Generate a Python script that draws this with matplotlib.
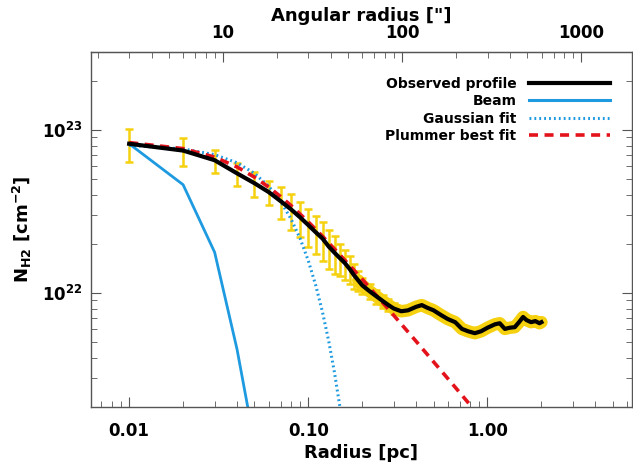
import numpy as np
import matplotlib
matplotlib.use("Agg")
import matplotlib.pyplot as plt
from matplotlib.lines import Line2D
from matplotlib.ticker import LogLocator, NullFormatter, FixedLocator, FixedFormatter

# observed radial profile (pc, 1e22 cm^-2)
obs_r = [0.01, 0.02, 0.03, 0.04, 0.05, 0.06, 0.07, 0.08, 0.09, 0.10,
         0.11, 0.12, 0.13, 0.14, 0.15, 0.16, 0.17, 0.18, 0.19, 0.20,
         0.22, 0.24, 0.26, 0.28, 0.30, 0.33, 0.36, 0.40, 0.43, 0.46,
         0.50, 0.55, 0.60, 0.66, 0.72, 0.78, 0.85, 0.92, 1.00, 1.10,
         1.17, 1.25, 1.33, 1.42, 1.50, 1.58, 1.65, 1.75, 1.85, 1.95, 2.00]
obs_n = [8.2, 7.45, 6.5, 5.4, 4.7, 4.15, 3.65, 3.25, 2.9, 2.6,
         2.35, 2.15, 1.92, 1.76, 1.63, 1.52, 1.40, 1.28, 1.19, 1.11,
         1.02, 0.95, 0.89, 0.84, 0.80, 0.77, 0.78, 0.82, 0.84, 0.81,
         0.78, 0.73, 0.69, 0.66, 0.60, 0.58, 0.565, 0.58, 0.61, 0.64,
         0.65, 0.60, 0.61, 0.615, 0.66, 0.71, 0.68, 0.66, 0.67, 0.65, 0.66]
# error bars for the inner part (same radii as the first entries of obs_r)
err_n = [1.89, 1.49, 1.04, 0.86, 0.82, 0.71, 0.80, 0.81, 0.70, 0.68,
         0.61, 0.58, 0.52, 0.46, 0.37, 0.32, 0.27, 0.22, 0.17, 0.13,
         0.11, 0.095, 0.08, 0.071, 0.064]

# beam profile
beam_r = [0.01, 0.02, 0.03, 0.04, 0.05]
beam_n = [8.2, 4.6, 1.77, 0.45, 0.12]

# gaussian fit
gauss_r = [0.01, 0.02, 0.03, 0.04, 0.05, 0.06, 0.07, 0.08, 0.09, 0.10,
           0.11, 0.12, 0.13, 0.14, 0.15, 0.16]
gauss_n = [8.02, 7.63, 7.03, 6.27, 5.40, 4.51, 3.64, 2.84, 2.15, 1.57,
           1.11, 0.76, 0.504, 0.323, 0.200, 0.120]

# plummer best fit
plum_r = [0.01, 0.02, 0.03, 0.04, 0.05, 0.06, 0.07, 0.08, 0.10, 0.12,
          0.15, 0.20, 0.25, 0.30, 0.40, 0.50, 0.60, 0.70, 0.80, 0.90]
plum_n = [8.34, 7.66, 6.79, 5.91, 5.12, 4.45, 3.89, 3.43, 2.72, 2.22,
          1.71, 1.21, 0.914, 0.726, 0.503, 0.377, 0.298, 0.244, 0.205, 0.176]

pc_per_arcsec = 0.00334

yellow = '#F5D10F'
blue = '#1E9AE0'
red = '#E3121B'

plt.rcParams['font.family'] = 'DejaVu Sans'
plt.rcParams['font.weight'] = 'bold'
plt.rcParams['axes.labelweight'] = 'bold'
plt.rcParams['mathtext.default'] = 'bf'

fig = plt.figure(figsize=(6.33, 4.68), dpi=100)
ax = fig.add_axes([0.1433, 0.131, 0.855, 0.758])

r = np.array(obs_r)
n = np.array(obs_n) * 1e22
ne = len(err_n)
ax.errorbar(r[:ne], n[:ne], yerr=np.array(err_n) * 1e22, fmt='none',
            ecolor=yellow, elinewidth=1.8, capsize=3, capthick=1.8, zorder=1)
band = r >= 0.19
ax.plot(r[band], n[band], color=yellow, lw=9, solid_capstyle='round',
        solid_joinstyle='round', zorder=1)
ax.plot(r, n, color='black', lw=3, zorder=4)
ax.plot(beam_r, np.array(beam_n) * 1e22, color=blue, lw=2, zorder=2)
ax.plot(gauss_r, np.array(gauss_n) * 1e22, color=blue, lw=2.2,
        linestyle=(0, (0.6, 1.0)), zorder=3)
ax.plot(plum_r, np.array(plum_n) * 1e22, color=red, lw=2.6,
        linestyle=(0, (2.5, 1.8)), zorder=3)

ax.set_xscale('log')
ax.set_yscale('log')
ax.set_xlim(0.0061, 6.4)
ax.set_ylim(2e21, 3e23)

ax.xaxis.set_major_locator(FixedLocator([0.01, 0.1, 1.0]))
ax.xaxis.set_major_formatter(FixedFormatter(['0.01', '0.10', '1.00']))
ax.xaxis.set_minor_locator(LogLocator(base=10, subs=np.arange(2, 10)))
ax.xaxis.set_minor_formatter(NullFormatter())
ax.yaxis.set_major_locator(FixedLocator([1e22, 1e23]))
ax.yaxis.set_major_formatter(FixedFormatter([r'10$^{22}$', r'10$^{23}$']))
ax.yaxis.set_minor_locator(LogLocator(base=10, subs=np.arange(2, 10)))
ax.yaxis.set_minor_formatter(NullFormatter())

ax.tick_params(which='both', direction='in', top=False, right=True,
               labelsize=12, color='#555555')
ax.tick_params(which='major', length=7, width=0.8)
ax.tick_params(which='minor', length=4, width=0.6)
ax.tick_params(axis='x', pad=11)
ax.tick_params(axis='y', pad=6)
for sp in ax.spines.values():
    sp.set_color('#555555')
    sp.set_linewidth(1.0)

ax.set_xlabel('Radius [pc]', fontsize=13, labelpad=3)
ax.set_ylabel(r'N$_{H2}$ [cm$^{-2}$]', fontsize=13, labelpad=6)

top = ax.secondary_xaxis('top', functions=(lambda x: x / pc_per_arcsec,
                                           lambda x: x * pc_per_arcsec))
top.xaxis.set_major_locator(FixedLocator([10, 100, 1000]))
top.xaxis.set_major_formatter(FixedFormatter(['10', '100', '1000']))
top.xaxis.set_minor_locator(LogLocator(base=10, subs=np.arange(2, 10)))
top.xaxis.set_minor_formatter(NullFormatter())
top.tick_params(which='both', direction='in', labelsize=12, color='#555555', pad=7)
top.tick_params(which='major', length=7, width=0.8)
top.tick_params(which='minor', length=4, width=0.6)
top.spines['top'].set_color('#555555')
top.set_xlabel('Angular radius ["]', fontsize=13, labelpad=2)

handles = [Line2D([], [], color='black', lw=3),
           Line2D([], [], color=blue, lw=2.2),
           Line2D([], [], color=blue, lw=2.2, linestyle=(0, (0.6, 1.0))),
           Line2D([], [], color=red, lw=2.6, linestyle=(0, (2.5, 1.8)))]
labels = ['Observed profile', 'Beam', 'Gaussian fit', 'Plummer best fit']
ax.legend(handles, labels, loc='upper right', bbox_to_anchor=(0.963, 0.836),
          bbox_transform=fig.transFigure, markerfirst=False, frameon=False,
          prop={'size': 10, 'weight': 'bold'}, handlelength=5.8,
          handletextpad=0.9, labelspacing=0.25, borderpad=0, borderaxespad=0)

fig.savefig('out.png', dpi=100)
